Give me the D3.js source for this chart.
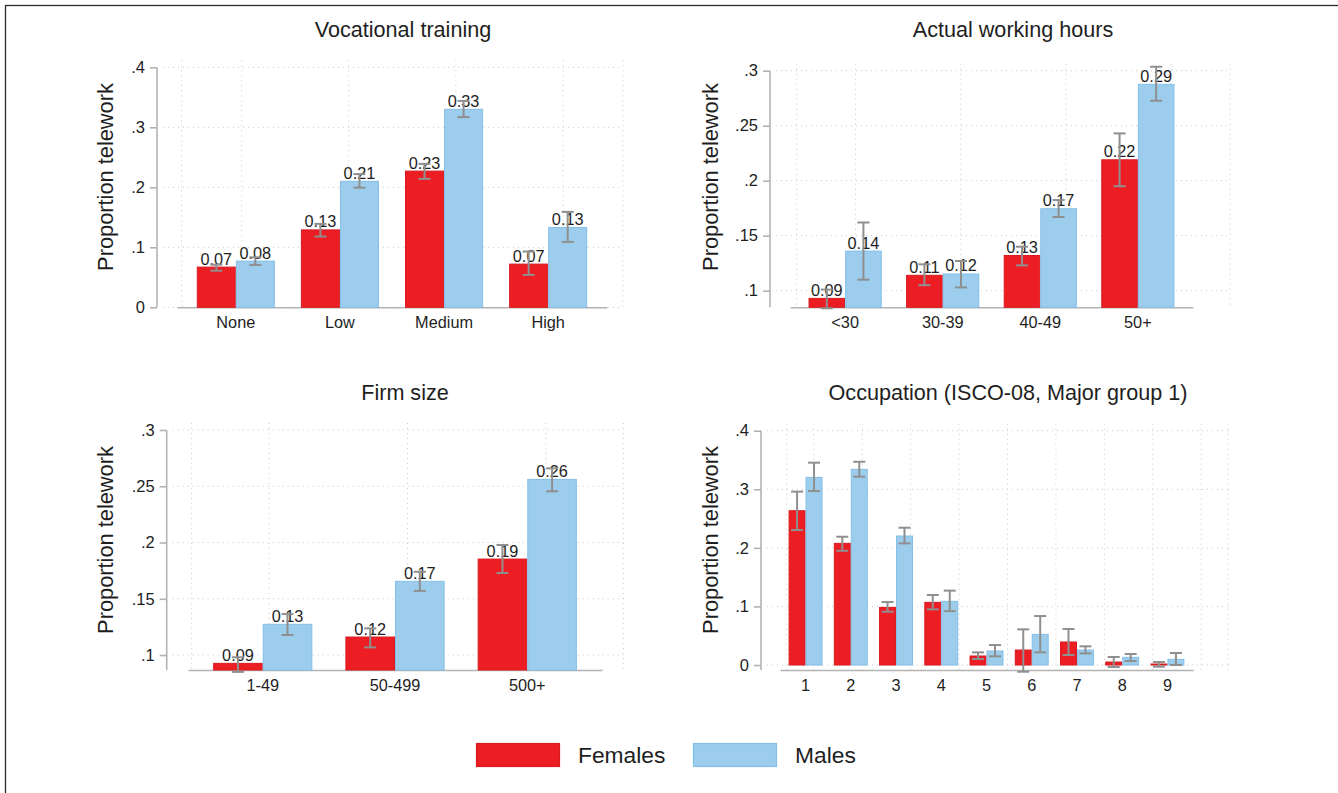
<!DOCTYPE html>
<html>
<head>
<meta charset="utf-8">
<script src="https://cdn.jsdelivr.net/npm/d3@7"></script>
<style>
  body { margin: 0; background: #fff; }
  text { font-family: 'Liberation Sans', Arial, sans-serif; fill: #1e1e1e; }
</style>
</head>
<body>
<div id="chart"></div>
<script>
// data
const vocCats = ['None', 'Low', 'Medium', 'High']
const vocF = [0.067, 0.129, 0.227, 0.072]
const vocFLo = [0.061, 0.118, 0.214, 0.054]
const vocFHi = [0.071, 0.139, 0.239, 0.093]
const vocM = [0.077, 0.21, 0.33, 0.133]
const vocMLo = [0.0706, 0.1994, 0.317, 0.109]
const vocMHi = [0.0833, 0.222, 0.344, 0.159]

const hourCats = ['<30', '30-39', '40-49', '50+']
const hourF = [0.093, 0.114, 0.132, 0.219]
const hourFLo = [0.084, 0.105, 0.123, 0.195]
const hourFHi = [0.101, 0.124, 0.14, 0.243]
const hourM = [0.136, 0.1152, 0.1745, 0.2876]
const hourMLo = [0.11, 0.103, 0.167, 0.2727]
const hourMHi = [0.162, 0.127, 0.1824, 0.3036]

const firmCats = ['1-49', '50-499', '500+']
const firmF = [0.0926, 0.116, 0.1853]
const firmFLo = [0.085, 0.1068, 0.1729]
const firmFHi = [0.098, 0.1237, 0.1978]
const firmM = [0.1273, 0.1655, 0.2561]
const firmMLo = [0.1178, 0.157, 0.2455]
const firmMHi = [0.1364, 0.174, 0.2659]

const occCats = ['1', '2', '3', '4', '5', '6', '7', '8', '9']
const occF = [0.2634, 0.2077, 0.0984, 0.107, 0.0154, 0.0256, 0.0393, 0.0051, 0.0017]
const occFLo = [0.2304, 0.195, 0.091, 0.095, 0.0102, -0.0114, 0.0171, -0.0034, -0.0028]
const occFHi = [0.296, 0.219, 0.1075, 0.1195, 0.0216, 0.0609, 0.0615, 0.0137, 0.0051]
const occM = [0.3203, 0.334, 0.2202, 0.1087, 0.0239, 0.0523, 0.0256, 0.0131, 0.0097]
const occMLo = [0.297, 0.3215, 0.2077, 0.092, 0.0148, 0.0216, 0.0199, 0.0068, 0]
const occMHi = [0.3454, 0.347, 0.2344, 0.127, 0.0341, 0.0836, 0.0319, 0.0188, 0.0205]

const ticks1 = [0, 0.1, 0.2, 0.3, 0.4]
const ticks2 = [0.1, 0.15, 0.2, 0.25, 0.3]

const seriesNames = ['Females', 'Males']
const fills = ['#ed1d24', '#9ccdec']
const strokes = ['#d81b22', '#84bfe8']

const panels = [
  { title: 'Vocational training', cats: vocCats, f: vocF, fLo: vocFLo, fHi: vocFHi, m: vocM, mLo: vocMLo, mHi: vocMHi,
    ticks: ticks1, yMin: 0, labels: true,
    axisX: 157, xRange: [177, 607], grid: [181.7, 623], yTop: 67.3, yBot: 307.3, titleX: 403, titleY: 37, yTitleX: 105, yTitleY: 177 },
  { title: 'Actual working hours', cats: hourCats, f: hourF, fLo: hourFLo, fHi: hourFHi, m: hourM, mLo: hourMLo, mHi: hourMHi,
    ticks: ticks2, yMin: 0.0849, labels: true,
    axisX: 770, xRange: [790, 1193], grid: [796.7, 1230], yTop: 70.7, yBot: 307.3, titleX: 1013, titleY: 37, yTitleX: 710, yTitleY: 177 },
  { title: 'Firm size', cats: firmCats, f: firmF, fLo: firmFLo, fHi: firmFHi, m: firmM, mLo: firmMLo, mHi: firmMHi,
    ticks: ticks2, yMin: 0.0867, labels: true,
    axisX: 166.7, xRange: [188, 602], grid: [191.7, 623.3], yTop: 430, yBot: 670, titleX: 405, titleY: 400, yTitleX: 105, yTitleY: 540 },
  { title: 'Occupation (ISCO-08, Major group 1)', cats: occCats, f: occF, fLo: occFLo, fHi: occFHi, m: occM, mLo: occMLo, mHi: occMHi,
    ticks: ticks1, yMin: -0.0085, labels: false,
    axisX: 761, xRange: [780, 1193], grid: [786.7, 1228.3], yTop: 430.7, yBot: 670, titleX: 1008, titleY: 400, yTitleX: 710, yTitleY: 540 }
]

const width = 1338
const height = 793

const svg = d3
  .select('#chart')
  .append('svg')
  .attr('width', width)
  .attr('height', height)

// outer frame (only top and left show in the picture)
svg
  .append('rect')
  .attr('x', 5.5)
  .attr('y', 5.5)
  .attr('width', width + 20)
  .attr('height', height + 20)
  .attr('fill', 'none')
  .attr('stroke', '#2b2b2b')
  .attr('stroke-width', 1.3)

const tickFmt = d => (d === 0 ? '0' : d3.format('.2~f')(d).replace(/^0/, ''))

panels.forEach(p => {
  const g = svg.append('g')
  const yMax = p.ticks[p.ticks.length - 1]

  const y = d3.scaleLinear().domain([p.yMin, yMax]).range([p.yBot, p.yTop])

  const x = d3
    .scaleBand()
    .domain(p.cats)
    .range(p.xRange)
    .paddingInner(0.25)
    .paddingOuter(0.19)

  const xSub = d3.scaleBand().domain(seriesNames).range([0, x.bandwidth()])

  // gridlines
  const gridX = d3.scalePoint().domain(p.cats).range(p.grid).padding(0.56)
  const vLines = [p.grid[0]].concat(p.cats.map(c => gridX(c))).concat([p.grid[1]])
  g.selectAll('.vgrid')
    .data(vLines)
    .enter()
    .append('line')
    .attr('x1', d => d)
    .attr('x2', d => d)
    .attr('y1', p.yTop - 7)
    .attr('y2', p.yBot)
    .attr('stroke', '#c9c9c9')
    .attr('stroke-width', 1)
    .attr('stroke-dasharray', '1,4')

  g.selectAll('.hgrid')
    .data(p.ticks)
    .enter()
    .append('line')
    .attr('x1', p.axisX + 6)
    .attr('x2', p.grid[1])
    .attr('y1', d => y(d))
    .attr('y2', d => y(d))
    .attr('stroke', '#c9c9c9')
    .attr('stroke-width', 1)
    .attr('stroke-dasharray', '1,4')

  // y axis
  const yAxis = d3.axisLeft(y).tickValues(p.ticks).tickFormat(tickFmt).tickSize(7).tickSizeOuter(0).tickPadding(5)
  const ya = g
    .append('g')
    .attr('transform', 'translate(' + p.axisX + ',0)')
    .call(yAxis)
  ya.select('.domain').attr('stroke', '#b3b3b3').attr('stroke-width', 1.6)
  ya.selectAll('.tick line').attr('stroke', '#b3b3b3').attr('stroke-width', 1.6)
  ya.selectAll('.tick text').attr('font-size', 16.5).attr('fill', '#1e1e1e')
  ya.select('.domain').attr('d', 'M0,' + p.yBot + 'V' + p.yTop)

  // x axis (no ticks)
  const xAxis = d3.axisBottom(x).tickSize(0).tickSizeOuter(0).tickPadding(15)
  const xa = g
    .append('g')
    .attr('transform', 'translate(0,' + p.yBot + ')')
    .call(xAxis)
  xa.select('.domain').attr('stroke', '#b3b3b3').attr('stroke-width', 1.6)
  xa.selectAll('.tick text').attr('font-size', 16.3).attr('fill', '#1e1e1e').attr('dy', '0.35em')

  const base = y(Math.max(0, p.yMin))
  const rows = p.cats.map((c, i) => [
    { cat: c, s: 0, v: p.f[i], lo: p.fLo[i], hi: p.fHi[i] },
    { cat: c, s: 1, v: p.m[i], lo: p.mLo[i], hi: p.mHi[i] }
  ]).flat()

  const bx = d => x(d.cat) + xSub(seriesNames[d.s])

  g.selectAll('.bar')
    .data(rows)
    .enter()
    .append('rect')
    .attr('x', d => bx(d) + 0.5)
    .attr('width', xSub.bandwidth() - 1)
    .attr('y', d => y(d.v))
    .attr('height', d => base - y(d.v))
    .attr('fill', d => fills[d.s])
    .attr('stroke', d => strokes[d.s])
    .attr('stroke-width', 1)

  if (p.labels) {
    g.selectAll('.lab')
      .data(rows)
      .enter()
      .append('text')
      .attr('x', d => bx(d) + xSub.bandwidth() / 2)
      .attr('y', d => y(d.v) - 2.5)
      .attr('text-anchor', 'middle')
      .attr('font-size', 16.3)
      .text(d => d3.format('.2f')(d.v))
  }

  // confidence intervals
  const eb = g.selectAll('.eb').data(rows).enter().append('g').attr('stroke', '#8f8f8f').attr('stroke-width', 2)
  const cx = d => bx(d) + xSub.bandwidth() / 2
  eb.append('line').attr('x1', cx).attr('x2', cx).attr('y1', d => y(d.lo)).attr('y2', d => y(d.hi))
  eb.append('line').attr('x1', d => cx(d) - 6).attr('x2', d => cx(d) + 6).attr('y1', d => y(d.lo)).attr('y2', d => y(d.lo))
  eb.append('line').attr('x1', d => cx(d) - 6).attr('x2', d => cx(d) + 6).attr('y1', d => y(d.hi)).attr('y2', d => y(d.hi))

  // titles
  g.append('text')
    .attr('x', p.titleX)
    .attr('y', p.titleY)
    .attr('text-anchor', 'middle')
    .attr('font-size', 21.6)
    .text(p.title)

  g.append('text')
    .attr('transform', 'translate(' + p.yTitleX + ',' + p.yTitleY + ') rotate(-90)')
    .attr('text-anchor', 'middle')
    .attr('dy', '0.35em')
    .attr('font-size', 21.8)
    .text('Proportion telework')
})

// legend
const legendX = d3.scaleOrdinal().domain(seriesNames).range([476, 693])
const leg = svg
  .selectAll('.legend')
  .data(seriesNames)
  .enter()
  .append('g')
  .attr('transform', d => 'translate(' + legendX(d) + ',743)')

leg.append('rect')
  .attr('x', 0.5)
  .attr('y', 0.5)
  .attr('width', 83)
  .attr('height', 23)
  .attr('fill', (d, i) => fills[i])
  .attr('stroke', (d, i) => strokes[i])
  .attr('stroke-width', 1.2)

leg.append('text')
  .attr('x', 102)
  .attr('y', 12)
  .attr('dy', '0.35em')
  .attr('font-size', 22.8)
  .text(d => d)
</script>
</body>
</html>
